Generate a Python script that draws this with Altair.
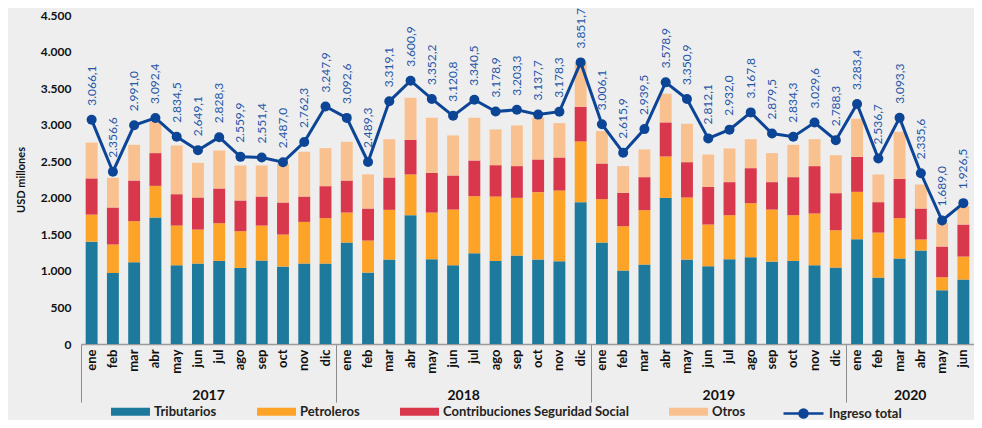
import altair as alt
import pandas as pd

months = ["ene", "feb", "mar", "abr", "may", "jun", "jul", "ago", "sep", "oct", "nov", "dic"]
years = [2017] * 12 + [2018] * 12 + [2019] * 12 + [2020] * 6
month_labels = months * 3 + months[:6]

tributarios = [1400, 972, 1118, 1730, 1077, 1100, 1136, 1041, 1141, 1059, 1100, 1100,
               1387, 977, 1155, 1762, 1159, 1077, 1241, 1136, 1209, 1155, 1132, 1940,
               1387, 1004, 1086, 1999, 1155, 1063, 1159, 1187, 1127, 1136, 1077, 1045,
               1433, 908, 1168, 1278, 735, 881]
petroleros = [370, 388, 562, 433, 543, 465, 516, 502, 479, 438, 570, 621,
              411, 438, 680, 557, 639, 762, 781, 881, 790, 922, 967, 830,
              594, 607, 744, 566, 849, 571, 603, 739, 712, 626, 708, 511,
              648, 616, 553, 151, 178, 315]
contribuciones = [495, 507, 556, 448, 429, 439, 475, 420, 397, 438, 347, 438,
                  438, 438, 442, 474, 543, 466, 488, 429, 434, 447, 452, 475,
                  488, 457, 452, 466, 483, 516, 452, 479, 375, 520, 648, 507,
                  479, 416, 538, 424, 420, 438]
otros = [490, 406, 489, 438, 667, 474, 520, 479, 425, 530, 612, 520,
         530, 466, 525, 575, 753, 548, 584, 489, 556, 575, 470, 605,
         443, 365, 379, 392, 525, 442, 461, 397, 397, 443, 369, 520,
         521, 379, 644, 329, 324, 251]
ingreso_total = [3066.1, 2356.6, 2991.0, 3092.4, 2834.5, 2649.1, 2828.3, 2559.9, 2551.4, 2487.0, 2762.3, 3247.9,
                 3092.6, 2489.3, 3319.1, 3600.9, 3352.2, 3120.8, 3340.5, 3178.9, 3203.3, 3137.7, 3178.3, 3851.7,
                 3006.1, 2615.9, 2939.5, 3578.9, 3350.9, 2812.1, 2932.0, 3167.8, 2879.5, 2834.3, 3029.6, 2788.3,
                 3283.4, 2536.7, 3093.3, 2335.6, 1689.0, 1926.5]

series_names = ["Tributarios", "Petroleros", "Contribuciones Seguridad Social", "Otros"]
series_colors = ["#1e7a9c", "#fda428", "#d9374b", "#f9c190"]
line_color = "#0d4596"

keys = [f"{y}-{m}" for y, m in zip(years, month_labels)]


def es_fmt(v):
    s = f"{v:,.1f}"
    return s.replace(",", "X").replace(".", ",").replace("X", ".")


rows = []
for i, k in enumerate(keys):
    for j, (name, vals) in enumerate(zip(series_names, [tributarios, petroleros, contribuciones, otros])):
        rows.append({"key": k, "serie": name, "valor": vals[i], "orden": j})
bars_df = pd.DataFrame(rows)

line_df = pd.DataFrame({
    "key": keys,
    "total": ingreso_total,
    "label": [es_fmt(v) for v in ingreso_total],
    "serie": ["Ingreso total"] * len(keys),
})

year_df = pd.DataFrame({
    "key": ["2017-jun", "2018-jun", "2019-jun", "2020-mar"],
    "year": ["2017", "2018", "2019", "2020"],
})

W, H = 893, 329
FONT = "Lato"
TICK = 58

x_axis = alt.Axis(
    title=None,
    labelExpr="split(datum.value, '-')[1]",
    labelAngle=270,
    labelFont=FONT,
    labelFontWeight="bold",
    labelFontSize=13,
    labelColor="#111111",
    labelPadding=5 - TICK,
    labelOverlap=False,
    labelBound=False,
    bandPosition=0,
    tickSize=TICK,
    tickColor="#8c8c8c",
    tickWidth=1,
    tickOpacity={"condition": {"test": "indexof(datum.value, 'ene') >= 0", "value": 1}, "value": 0},
    domainColor="#9a9a9a",
    domainWidth=1.5,
    grid=False,
)
x_enc = alt.X("key:N", sort=keys, scale=alt.Scale(paddingInner=0, paddingOuter=0), axis=x_axis)

y_scale = alt.Scale(domain=[0, 4500])
y_axis = alt.Axis(
    title="USD millones",
    titleFont=FONT,
    titleFontSize=11,
    titleFontWeight="bold",
    titleColor="#111111",
    titlePadding=14,
    values=list(range(0, 4501, 500)),
    labelExpr="replace(format(datum.value, ','), ',', '.')",
    labelFont=FONT,
    labelFontWeight="bold",
    labelFontSize=12,
    labelColor="#111111",
    labelPadding=10,
    labelOverlap=False,
    labelBound=False,
    labelFlush=False,
    domain=False,
    ticks=False,
    grid=False,
)

bars = alt.Chart(bars_df).mark_bar(width={"band": 0.56}).encode(
    x=x_enc,
    y=alt.Y("sum(valor):Q", stack="zero", scale=y_scale, axis=y_axis),
    color=alt.Color(
        "serie:N",
        scale=alt.Scale(domain=series_names, range=series_colors),
        legend=alt.Legend(
            title=None,
            orient="none",
            legendX=30,
            legendY=377,
            direction="horizontal",
            symbolType="M-1,-0.2H1V0.2H-1Z",
            symbolSize=1521,
            symbolStrokeWidth=0,
            symbolOpacity=1,
            labelFont=FONT,
            labelFontSize=13,
            labelFontWeight="bold",
            labelColor="#222222",
            labelOffset=4,
            columnPadding=40,
            labelLimit=400,
        ),
    ),
    order=alt.Order("orden:Q", sort="ascending"),
)

x_plain = alt.X("key:N", sort=keys, axis=x_axis)
y_plain = alt.Y("total:Q", scale=y_scale, axis=y_axis)

line = alt.Chart(line_df).mark_line(strokeWidth=3).encode(
    x=x_plain,
    y=y_plain,
    stroke=alt.Stroke(
        "serie:N",
        scale=alt.Scale(domain=["Ingreso total"], range=[line_color]),
        legend=alt.Legend(
            title=None,
            orient="none",
            legendX=701,
            legendY=377,
            direction="horizontal",
            symbolType="M-1,0H1M-0.2,0A0.2,0.2 0 1,1 0.2,0A0.2,0.2 0 1,1 -0.2,0Z",
            symbolSize=1600,
            symbolStrokeWidth=2.5,
            symbolFillColor=line_color,
            labelFont=FONT,
            labelFontSize=13,
            labelFontWeight="bold",
            labelColor="#222222",
            labelOffset=4,
        ),
    ),
)

points = alt.Chart(line_df).mark_circle(size=100, opacity=1, color=line_color).encode(
    x=x_plain,
    y=y_plain,
)

labels = alt.Chart(line_df).mark_text(
    angle=270, align="left", baseline="middle", dx=14, font=FONT, fontSize=12, color="#1f56a8"
).encode(
    x=x_plain,
    y=y_plain,
    text="label:N",
)

year_text = alt.Chart(year_df).mark_text(
    font=FONT, fontSize=14, fontWeight="bold", color="#111111", baseline="middle", align="center"
).encode(
    x=alt.X("key:N", sort=keys, bandPosition=1, axis=x_axis),
    y=alt.value(381),
    text="year:N",
)

chart = alt.layer(bars, line, points, labels, year_text).resolve_scale(
    color="independent", stroke="independent"
).properties(
    width=W,
    height=H,
    background="#eeeeee",
    padding={"left": 73, "top": 7, "right": 0, "bottom": 76},
    autosize=alt.AutoSizeParams(type="none"),
).configure_view(stroke=None)

chart.save("out.html", embed_options={"renderer": "svg", "actions": False})
